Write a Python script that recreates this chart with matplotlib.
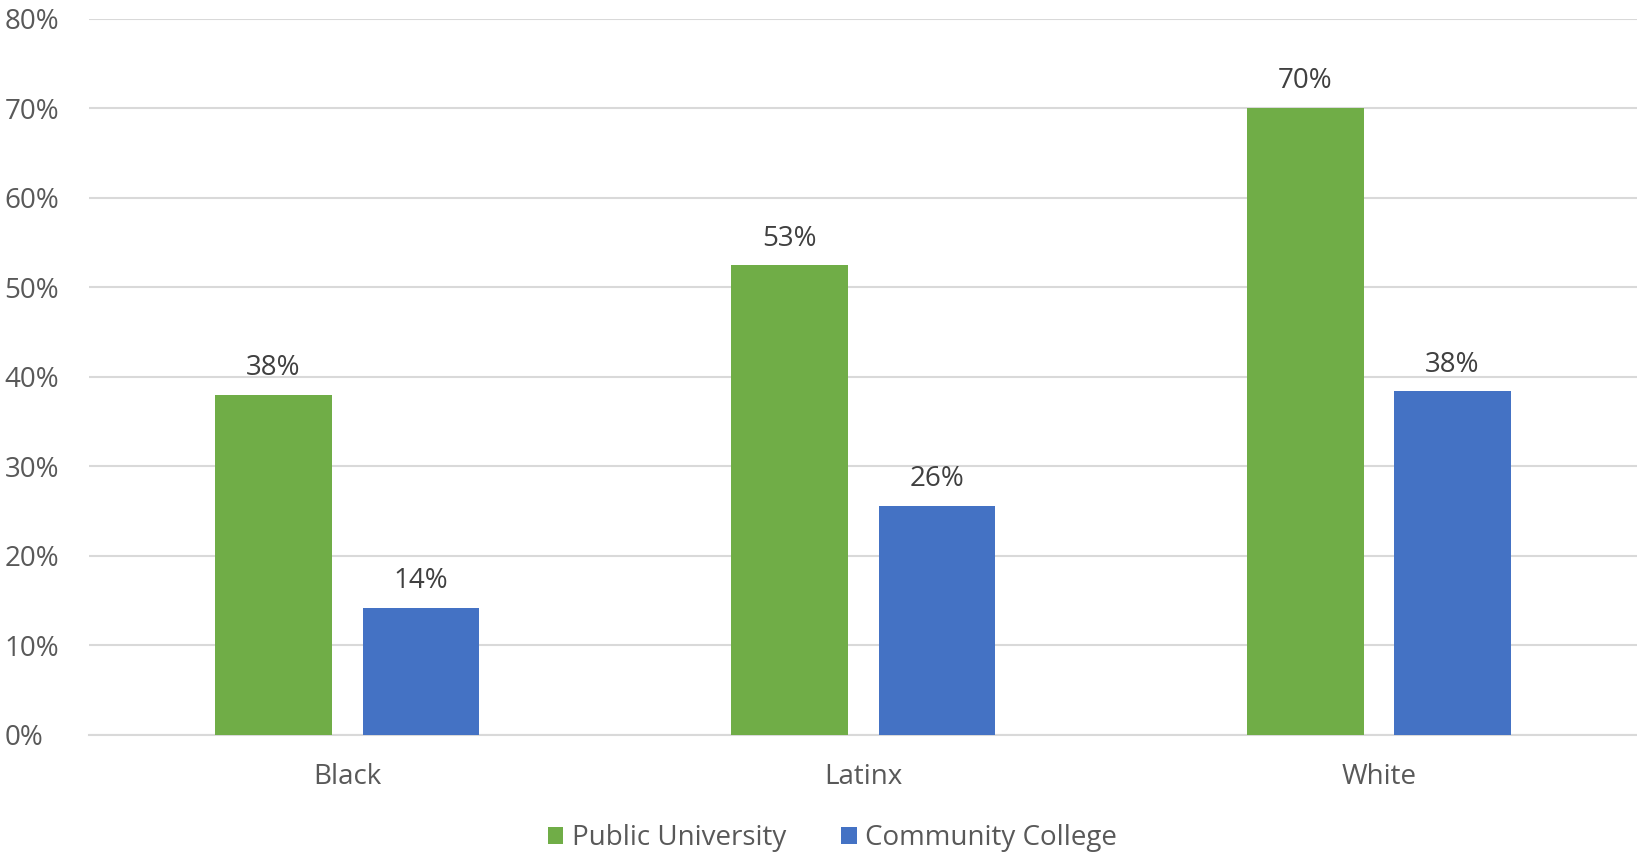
import matplotlib
matplotlib.use("Agg")
import matplotlib.pyplot as plt
import numpy as np

categories = ["Black", "Latinx", "White"]
public_university = [38.0, 52.5, 70.1]
community_college = [14.2, 25.6, 38.4]
public_labels = ["38%", "53%", "70%"]
community_labels = ["14%", "26%", "38%"]
yticks = [0, 10, 20, 30, 40, 50, 60, 70, 80]
series_names = ["Public University", "Community College"]

GREEN = "#70AD47"
BLUE = "#4472C4"
GRID = "#D9D9D9"
TICK = "#595959"
LABEL = "#404040"
FS = 20

plt.rcParams['font.family'] = ['Open Sans', 'DejaVu Sans']

fig = plt.figure(figsize=(16.37, 8.55), dpi=100)
ax = fig.add_axes([0.0544, 0.1404, 0.9456, 0.8374])

x = np.arange(len(categories))
w = 0.225
off = 0.1425
b1 = ax.bar(x - off, public_university, w, color=GREEN, label=series_names[0], zorder=3)
b2 = ax.bar(x + off, community_college, w, color=BLUE, label=series_names[1], zorder=3)

for bars, labs in ((b1, public_labels), (b2, community_labels)):
    for rect, lab in zip(bars, labs):
        ax.annotate(lab, (rect.get_x() + rect.get_width() / 2, rect.get_height()),
                    xytext=(0, 9), textcoords="offset points", ha="center", va="bottom",
                    fontsize=FS, color=LABEL)

ax.set_xlim(-0.5, 2.5)
ax.set_ylim(0, 80)
ax.set_yticks(yticks)
ax.set_yticklabels([f"{t}%" for t in yticks])
ax.set_xticks(x)
ax.set_xticklabels(categories)
ax.tick_params(axis="both", length=0, labelsize=FS, colors=TICK)
ax.tick_params(axis="x", pad=20)
for lab in ax.get_yticklabels():
    lab.set_horizontalalignment("left")
ax.yaxis.set_tick_params(pad=0)
for lab in ax.get_yticklabels():
    lab.set_transform(ax.get_yaxis_transform())
    lab.set_position((-0.0544 / 0.9456 * 0.95, 0))

ax.grid(axis="y", color=GRID, linewidth=1.5, zorder=0)
for s in ["top", "right", "left"]:
    ax.spines[s].set_visible(False)
ax.spines["bottom"].set_color(GRID)
ax.spines["bottom"].set_linewidth(1.5)

leg = fig.legend(handles=[b1, b2], labels=series_names, loc="center",
                 bbox_to_anchor=(0.5085, 0.0195), ncol=2, frameon=False,
                 fontsize=FS, handlelength=0.55, handleheight=0.55,
                 handletextpad=0.3, columnspacing=2.0)
for t in leg.get_texts():
    t.set_color(TICK)

fig.savefig("out.png", dpi=100)
